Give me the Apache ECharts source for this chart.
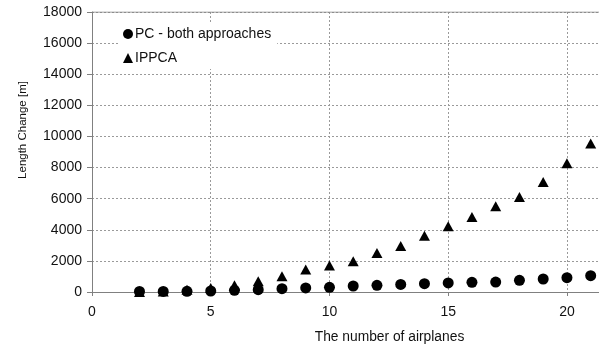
<!DOCTYPE html>
<html>
<head>
<meta charset="utf-8">
<script src="https://cdn.jsdelivr.net/npm/echarts@6/dist/echarts.min.js"></script>
<style>
  html, body { margin: 0; padding: 0; background: #fff; }
  #chart { width: 599px; height: 347px; }
</style>
</head>
<body>
<div id="chart"></div>
<script>
const airplanes = [2, 3, 4, 5, 6, 7, 8, 9, 10, 11, 12, 13, 14, 15, 16, 17, 18, 19, 20, 21];
const pcValues = [40, 40, 45, 65, 110, 150, 215, 260, 300, 385, 430, 490, 535, 580, 620, 640, 750, 835, 920, 1050];
const ippcaValues = [0, 40, 150, 260, 430, 690, 1010, 1440, 1700, 1970, 2510, 2960, 3620, 4220, 4820, 5510, 6110, 7070, 8270, 9540];

const pairs = (vals) => airplanes.map((x, i) => [x, vals[i]]);

const font = 'Liberation Sans, Arial, sans-serif';
const option = {
  animation: false,
  grid: { left: 92, right: 0, top: 12, bottom: 55, outerBoundsMode: 'none' },
  legend: {
    orient: 'vertical',
    left: 119,
    top: 23,
    itemWidth: 10,
    itemHeight: 10,
    itemGap: 10,
    padding: [4, 6, 4, 4],
    backgroundColor: '#fff',
    itemStyle: { opacity: 1 },
    textStyle: { color: '#111', fontSize: 14, fontFamily: font, padding: [0, 0, 0, -3] },
    data: [
      { name: 'PC - both approaches', icon: 'circle' },
      { name: 'IPPCA', icon: 'triangle' },
    ],
  },
  xAxis: {
    type: 'value',
    min: 0,
    max: 21.35,
    interval: 5,
    name: 'The number of airplanes',
    nameLocation: 'middle',
    nameGap: 38,
    // the original plot was cropped on the right, so the title sits right of centre
    nameTextStyle: { color: '#111', fontSize: 13.8, fontFamily: font, padding: [0, 0, 0, 88] },
    axisLine: { lineStyle: { color: '#808080' } },
    axisTick: { show: true, length: 4, lineStyle: { color: '#808080' } },
    axisLabel: {
      color: '#111', fontSize: 14, fontFamily: font, margin: 13,
      showMaxLabel: false,
    },
    splitLine: { show: true, lineStyle: { color: '#9a9a9a', type: [2, 2], width: 1 } },
  },
  yAxis: {
    type: 'value',
    min: 0,
    max: 18000,
    interval: 2000,
    name: 'Length Change [m]',
    nameLocation: 'middle',
    nameGap: 63,
    nameTextStyle: { color: '#111', fontSize: 11.5, fontFamily: font, padding: [0, 0, 0, 44] },
    axisLine: { show: true, lineStyle: { color: '#808080' } },
    axisTick: { show: true, length: 5, lineStyle: { color: '#808080' } },
    axisLabel: { color: '#111', fontSize: 14, fontFamily: font, margin: 10, formatter: (v) => String(v) },
    splitLine: { show: true, lineStyle: { color: '#9a9a9a', type: [2, 2], width: 1 } },
  },
  series: [
    {
      name: 'IPPCA',
      type: 'scatter',
      symbol: 'triangle',
      symbolSize: [11, 10],
      itemStyle: { color: '#000', opacity: 1 },
      data: pairs(ippcaValues),
      z: 3,
    },
    {
      name: 'PC - both approaches',
      type: 'scatter',
      symbol: 'circle',
      symbolSize: 11,
      itemStyle: { color: '#000', opacity: 1 },
      data: pairs(pcValues),
      z: 4,
    },
    {
      // solid top border of the plot area
      type: 'line',
      data: [[0, 18000], [21.35, 18000]],
      symbol: 'none',
      silent: true,
      lineStyle: { color: '#808080', width: 1 },
      z: 1,
    },
  ],
};

const myChart = echarts.init(document.getElementById('chart'));
myChart.setOption(option);
</script>
</body>
</html>
